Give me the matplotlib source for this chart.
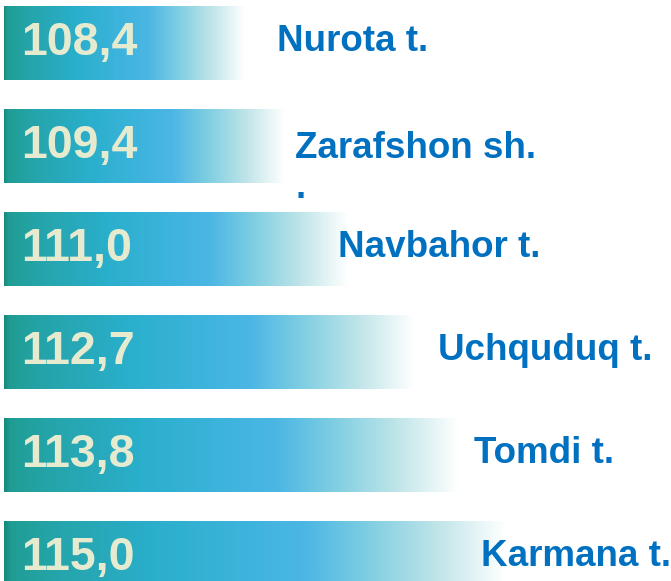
import numpy as np
import matplotlib.pyplot as plt
from matplotlib.colors import LinearSegmentedColormap

districts = ['Nurota t.', 'Zarafshon sh.\n.', 'Navbahor t.', 'Uchquduq t.', 'Tomdi t.', 'Karmana t.']
values = [108.4, 109.4, 111.0, 112.7, 113.8, 115.0]

# layout (pixels on the 671 px wide canvas)
label_x_px = [277, 295, 338, 438, 474, 481]
W, H = 671, 581
row_px = 103
base = 102.3
px_per_unit = 39.5

plt.rcParams['font.family'] = ['Liberation Sans', 'DejaVu Sans']

fig = plt.figure(figsize=(W / 100, H / 100), dpi=100)
ax = fig.add_axes([0, 0, 1, 1])

cmap = LinearSegmentedColormap.from_list('bar', [
    (0.0, '#178a7e'), (0.012, '#1f9d93'), (0.08, '#24a3a6'), (0.3, '#2aafcc'),
    (0.5, '#3fb4de'), (0.6, '#4cb6e4'), (0.72, '#7ccde2'), (0.86, '#bde4e8'),
    (1.0, '#ffffff')])
grad = np.linspace(0, 1, 256).reshape(1, -1)

rows = np.arange(len(values))
bars = ax.barh(rows, np.array(values) - base, left=base, height=0.72,
               color='none', edgecolor='none')
for bar in bars:
    x, y = bar.get_x(), bar.get_y()
    w, h = bar.get_width(), bar.get_height()
    im = ax.imshow(grad, cmap=cmap, extent=[x, x + w, y + h, y], aspect='auto',
                   interpolation='bicubic', zorder=2)
    im.set_clip_path(bar)

tr = ax.get_yaxis_transform()
for r, v, name, lx in zip(rows, values, districts, label_x_px):
    ax.text(21 / W, r + 0.12, f'{v:.1f}'.replace('.', ','), transform=tr,
            fontsize=33.5, fontweight='bold', color='#e6ebd0', va='baseline',
            ha='left', zorder=3)
    # baseline refers to the last line for multi-line labels
    extra = name.count('\n') * 44 / row_px
    ax.text(lx / W, r + 0.08 + extra, name, transform=tr, fontsize=26.5,
            fontweight='bold', color='#0070c0', va='baseline', ha='left',
            zorder=3)

ax.set_xlim(base - 4 / px_per_unit, base - 4 / px_per_unit + W / px_per_unit)
ax.set_ylim((H - 43) / row_px, -43 / row_px)
ax.axis('off')

fig.savefig('out.png', dpi=100)
